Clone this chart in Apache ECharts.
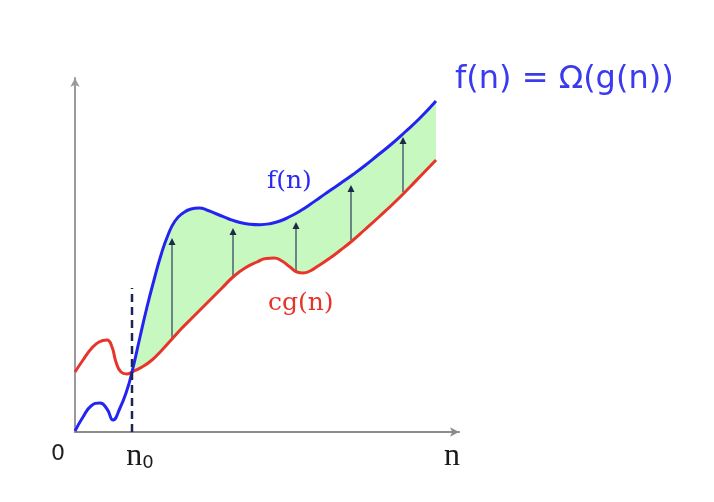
<!DOCTYPE html>
<html>
<head>
<meta charset="utf-8">
<script src="https://cdn.jsdelivr.net/npm/echarts@6/dist/echarts.min.js"></script>
<style>html,body{margin:0;padding:0;background:#fff}#c{width:714px;height:502px}</style>
</head>
<body>
<div id="c"></div>
<script>
// f(n) (blue): n positions and values (chart units)
const fN      = [0,8,16,25,32,38,45,52,57,65,72,79,86,93,100,108,116,124,133,143,154,165,175,185,195,205,215,225,235,245,255,266,278,290,303,316,330,345,361];
const fValues = [1,15,26,29,23,12,24,42,60,95,125,152,177,197,211,219,223,224,221.5,217.5,213,209.5,207.8,207.3,208.3,211,215.5,221,227.5,234.5,241.5,249,257.5,266.5,277,287.5,300,314,331];
// c·g(n) (red): n positions and values
const cgN      = [0,8,16,24,32,37,41,46,52,57,67,77,87,97,107,117,127,137,147,158,170,182,191,199,207,215,222,228,235,243,255,265,277,290,305,320,335,347,361];
const cgValues = [60,72,83,90,92,85,70,60,58,60,65,72,82,93,104,114,124,134,144,155,164,170,173.5,174,171,165,160,159,161,166,174,181.5,191,202.5,216,230,245,257.5,272];
// n0 and the dashed marker top
const n0 = 57;
const n0MarkerTop = 144;
// arrows: n, from (on cg), to (below f)
const arrowN = [97,158,221,276,328];
const arrowFrom = [94,155,160,192,240];
const arrowTo = [194,204,210,247,295];
// tick labels on the n axis
const tickValues = [0, n0, 384];
const tickLabels = ['0', 'n0', 'n'];

const fPts = fN.map((x,i)=>[x,fValues[i]]);
const cgPts = cgN.map((x,i)=>[x,cgValues[i]]);
const SM = 0.5;
const chart = echarts.init(document.getElementById('c'), null, {renderer:'canvas'});
chart.setOption({
  animation:false,
  backgroundColor:'#fff',
  grid:{left:75, top:78, width:384, height:354, containLabel:false},
  xAxis:{type:'value', min:0, max:384, z:2,
    axisLine:{show:true, lineStyle:{color:'#8c8c8c', width:2}, symbol:['none','arrow'], symbolSize:[7,9]},
    axisTick:{show:false}, splitLine:{show:false},
    axisLabel:{show:true, customValues:tickValues, margin:9,
      formatter:function(v){
        const i = tickValues.indexOf(v);
        const t = tickLabels[i];
        if (i===0) return '{z|'+t+'}';
        if (i===1) return '{n|'+t.charAt(0)+'}{s|'+t.slice(1)+'}';
        return '{e|'+t+'}';
      },
      rich:{
        z:{fontFamily:'DejaVu Sans', fontSize:22, color:'#222', padding:[2,34,0,0]},
        n:{fontFamily:'Liberation Serif', fontSize:32, color:'#1a1a1a', padding:[0,0,0,16]},
        s:{fontFamily:'DejaVu Sans', fontSize:18, color:'#1a1a1a', padding:[12,0,0,0]},
        e:{fontFamily:'Liberation Serif', fontSize:32, color:'#1a1a1a', padding:[0,14,0,0]}
      }
    }
  },
  yAxis:{type:'value', min:0, max:354, z:2,
    axisLine:{show:true, lineStyle:{color:'#9a9a9a', width:2}, symbol:['none','arrow'], symbolSize:[7,9]},
    axisTick:{show:false}, splitLine:{show:false}, axisLabel:{show:false}
  },
  series:[
    // green region under f(n), then white mask under cg(n): leaves green where f > cg
    {type:'line', name:'fill-f', data:fPts, smooth:SM, symbol:'none', silent:true, z:1,
      lineStyle:{opacity:0}, areaStyle:{color:'#c6f8c0', opacity:1}},
    {type:'line', name:'fill-cg', data:cgPts, smooth:SM, symbol:'none', silent:true, z:1,
      lineStyle:{opacity:0}, areaStyle:{color:'#ffffff', opacity:1}},
    {type:'custom', name:'arrows', z:3,
      data: arrowN.map((x,i)=>[x, arrowFrom[i], arrowTo[i]]),
      renderItem:function(params, api){
        const p0 = api.coord([api.value(0), api.value(1)]);
        const p1 = api.coord([api.value(0), api.value(2)]);
        return {type:'group', children:[
          {type:'line', shape:{x1:p0[0], y1:p0[1], x2:p1[0], y2:p1[1]+5}, style:{stroke:'#4d6272', lineWidth:1.5}},
          {type:'polygon', shape:{points:[[p1[0],p1[1]],[p1[0]-3.5,p1[1]+7],[p1[0]+3.5,p1[1]+7]]}, style:{fill:'#1c2a4a'}}
        ]};
      }
    },
    {type:'line', name:'cg(n)', data:cgPts, smooth:SM, symbol:'none', z:4,
      lineStyle:{color:'#e8352b', width:3}},
    {type:'line', name:'f(n)', data:fPts, smooth:SM, symbol:'none', z:5,
      lineStyle:{color:'#2424f2', width:3}},
    {type:'line', name:'n0', data:[[n0,0],[n0,n0MarkerTop]], symbol:'none', z:6,
      lineStyle:{color:'#1a2550', width:2.5, type:[8,5]}}
  ],
  graphic:[
    {type:'text', z:100, left:455, top:64, style:{text:'f(n) = Ω(g(n))', fontFamily:'DejaVu Sans', fontSize:32, fill:'#3a3aee'}},
    {type:'text', z:100, left:267, top:169, style:{text:'f(n)', fontFamily:'DejaVu Serif', fontSize:25, fill:'#2a2af0'}},
    {type:'text', z:100, left:268, top:291, style:{text:'cg(n)', fontFamily:'DejaVu Serif', fontSize:25, fill:'#e5352b'}}
  ]
});
</script>
</body>
</html>
